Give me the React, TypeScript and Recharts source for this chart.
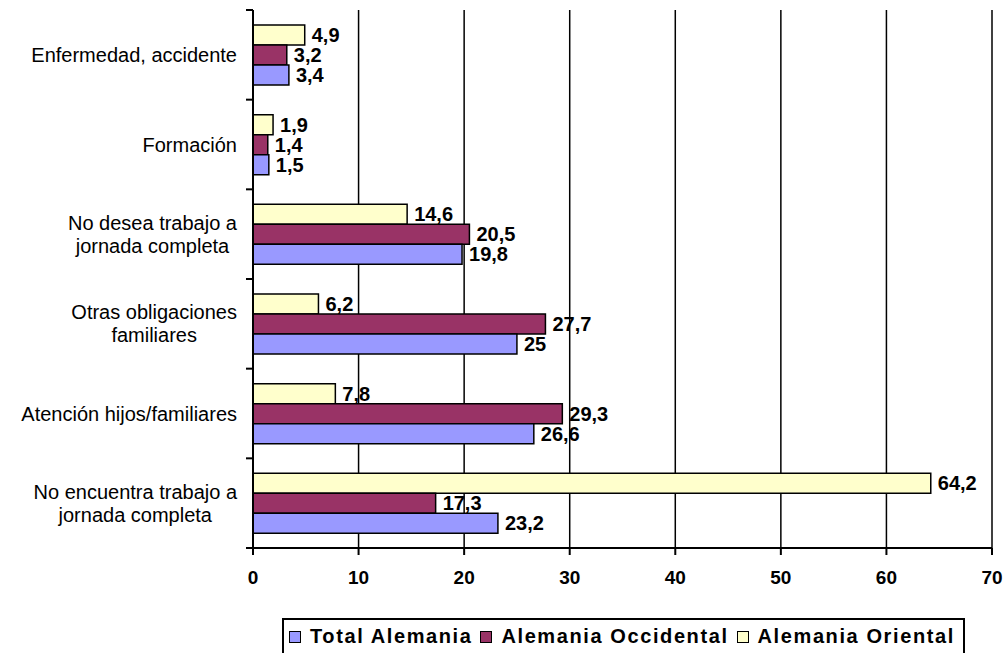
import { BarChart, Bar, XAxis, YAxis, CartesianGrid, LabelList } from 'recharts'

const categories = [
  'Enfermedad, accidente',
  'Formación',
  'No desea trabajo a\njornada completa',
  'Otras obligaciones\nfamiliares',
  'Atención hijos/familiares',
  'No encuentra trabajo a\njornada completa',
]
const totalAlemania = [3.4, 1.5, 19.8, 25, 26.6, 23.2]
const alemaniaOccidental = [3.2, 1.4, 20.5, 27.7, 29.3, 17.3]
const alemaniaOriental = [4.9, 1.9, 14.6, 6.2, 7.8, 64.2]
const xTicks = [0, 10, 20, 30, 40, 50, 60, 70]

const series = [
  { key: 'total', name: 'Total Alemania', color: '#9999FF' },
  { key: 'occ', name: 'Alemania Occidental', color: '#993366' },
  { key: 'ori', name: 'Alemania Oriental', color: '#FFFFCC' },
]

const data = categories.map((c, i) => ({
  cat: c,
  total: totalAlemania[i],
  occ: alemaniaOccidental[i],
  ori: alemaniaOriental[i],
}))

const FONT = '"Liberation Sans", Arial, sans-serif'
const CHART_W = 1007
const CHART_H = 600
const MARGIN = { top: 10, right: 15, bottom: 12, left: 0 }
const X_AXIS_H = 40
const PLOT_H = CHART_H - MARGIN.top - MARGIN.bottom - X_AXIS_H
const BAND = PLOT_H / categories.length

let ctx: CanvasRenderingContext2D | null = null
function textWidth(s: string, font: string) {
  if (!ctx) ctx = document.createElement('canvas').getContext('2d')
  if (!ctx) return s.length * 10
  ctx.font = font
  return ctx.measureText(s).width
}

const fmt = (v: any) => String(v).replace('.', ',')

function CategoryTick(props: any) {
  const { x, y, payload, index } = props
  const lines = String(payload.value).split('\n')
  const font = `20px ${FONT}`
  const w = Math.max(...lines.map((l) => textWidth(l, font)))
  const cx = x - w / 2
  const lh = 23
  const y0 = y - ((lines.length - 1) * lh) / 2
  const axisX = x + 16
  return (
    <g>
      <line x1={axisX - 7} x2={axisX} y1={y - BAND / 2} y2={y - BAND / 2} stroke="#000" strokeWidth={2} />
      {index === categories.length - 1 && (
        <line x1={axisX - 7} x2={axisX} y1={y + BAND / 2} y2={y + BAND / 2} stroke="#000" strokeWidth={2} />
      )}
      <text x={cx} y={y0} textAnchor="middle" dominantBaseline="central" fontFamily={FONT} fontSize={20} fill="#000">
        {lines.map((l, i) => (
          <tspan key={i} x={cx} y={y0 + i * lh}>
            {l}
          </tspan>
        ))}
      </text>
    </g>
  )
}

function Legend() {
  return (
    <div
      style={{
        position: 'absolute',
        left: 282,
        top: 618,
        width: 683,
        height: 40,
        border: '2px solid #000',
        borderBottom: 'none',
        display: 'flex',
        alignItems: 'center',
        paddingLeft: 5,
        boxSizing: 'border-box',
        fontFamily: FONT,
        fontWeight: 'bold',
        fontSize: 20,
        letterSpacing: 1.6,
        paddingBottom: 5,
        whiteSpace: 'nowrap',
      }}
    >
      {series.map((s) => (
        <div key={s.key} style={{ display: 'flex', alignItems: 'center', marginRight: 8 }}>
          <span
            style={{
              display: 'inline-block',
              width: 10,
              height: 10,
              background: s.color,
              border: '1.5px solid #000',
              marginRight: 9,
            }}
          />
          <span>{s.name}</span>
        </div>
      ))}
    </div>
  )
}

export default function App() {
  const drawOrder = [...series].reverse()
  return (
    <div style={{ position: 'absolute', left: 0, top: 0, width: CHART_W, height: 653, background: '#fff' }}>
      <BarChart
        width={CHART_W}
        height={CHART_H}
        data={data}
        layout="vertical"
        margin={MARGIN}
        barCategoryGap={15}
        barGap={0}
      >
        <CartesianGrid vertical horizontal={false} stroke="#000" strokeWidth={1.5} />
        <XAxis
          type="number"
          domain={[0, 70]}
          ticks={xTicks}
          height={X_AXIS_H}
          axisLine={{ stroke: '#000', strokeWidth: 2 }}
          tickLine={{ stroke: '#000', strokeWidth: 2 }}
          tickSize={7}
          tickMargin={16}
          tick={{ fill: '#000', fontFamily: FONT, fontSize: 19, fontWeight: 'bold' }}
        />
        <YAxis
          type="category"
          dataKey="cat"
          width={253}
          axisLine={{ stroke: '#000', strokeWidth: 2 }}
          tickLine={false}
          tickSize={8}
          tickMargin={8}
          tick={<CategoryTick />}
          interval={0}
        />
        {drawOrder.map((s) => (
          <Bar
            key={s.key}
            dataKey={s.key}
            name={s.name}
            fill={s.color}
            stroke="#000"
            strokeWidth={1.5}
            isAnimationActive={false}
          >
            <LabelList
              dataKey={s.key}
              position="right"
              offset={7}
              formatter={fmt}
              style={{ fill: '#000', fontFamily: FONT, fontSize: 20, fontWeight: 'bold' }}
            />
          </Bar>
        ))}
      </BarChart>
      <Legend />
    </div>
  )
}
